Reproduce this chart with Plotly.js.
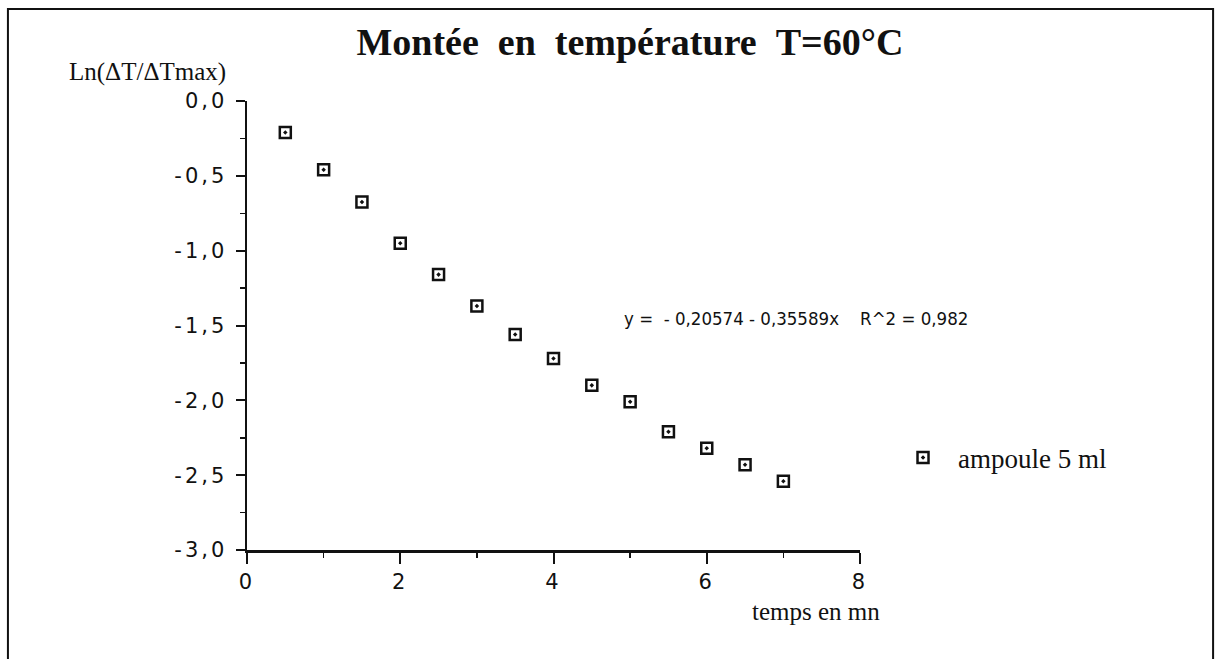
<!DOCTYPE html>
<html>
<head>
<meta charset="utf-8">
<script src="https://cdn.plot.ly/plotly-3.0.1.min.js"></script>
<style>
  body { margin: 0; background: #fff; }
  #chart { width: 1216px; height: 659px; }
  .ytick text { letter-spacing: 3px; }
  .xtick text { letter-spacing: 3px; }
</style>
</head>
<body>
<div id="chart"></div>
<script>
// ---- data ----
const timeMin = [0.5, 1, 1.5, 2, 2.5, 3, 3.5, 4, 4.5, 5, 5.5, 6, 6.5, 7];
const lnRatio = [-0.21, -0.46, -0.675, -0.95, -1.16, -1.37, -1.56, -1.72, -1.90, -2.01, -2.21, -2.32, -2.43, -2.54];
const seriesName = "ampoule 5 ml";

const yTickVals = [0, -0.5, -1, -1.5, -2, -2.5, -3];
const yTickText = ["0,0", "-0,5", "-1,0", "-1,5", "-2,0", "-2,5", "-3,0"];
const xTickVals = [0, 2, 4, 6, 8];
const xTickText = ["0", "2", "4", "6", "8"];

const titleText = "Montée\u00a0\u00a0en\u00a0\u00a0température\u00a0\u00a0T=60°C";
const yTitleText = "Ln(ΔT/ΔTmax)";
const xTitleText = "temps en mn";
const fitText = "y =\u00a0\u00a0- 0,20574 - 0,35589x\u00a0\u00a0\u00a0\u00a0R^2 = 0,982";

const ink = "#111111";
const serif = "Liberation Serif, Times New Roman, serif";
const sans = "DejaVu Sans, Verdana, sans-serif";
const sansNarrow = "DejaVu Sans Condensed, Liberation Sans, sans-serif";

const trace = {
  x: timeMin,
  y: lnRatio,
  type: "scatter",
  mode: "markers",
  name: seriesName,
  marker: { symbol: "square-open-dot", size: 11, color: ink, line: { width: 2.5, color: ink } }
};

const layout = {
  width: 1216,
  height: 659,
  paper_bgcolor: "#ffffff",
  plot_bgcolor: "#ffffff",
  margin: { l: 247, r: 356, t: 101, b: 109 },
  showlegend: true,
  title: {
    text: "<b>" + titleText + "</b>",
    font: { family: serif, size: 38, color: ink },
    x: 0.518, xanchor: "center",
    y: 0.936, yanchor: "middle"
  },
  xaxis: {
    range: [0, 8],
    showgrid: false, zeroline: false,
    showline: true, linecolor: ink, linewidth: 2.5,
    ticks: "outside", ticklen: 11, tickwidth: 2, tickcolor: ink,
    tickvals: xTickVals, ticktext: xTickText,
    minor: { dtick: 1, ticks: "outside", ticklen: 5, tickwidth: 1.5, tickcolor: ink },
    tickfont: { family: sans, size: 21, color: ink },
    fixedrange: true
  },
  yaxis: {
    range: [-3, 0],
    showgrid: false, zeroline: false,
    showline: true, linecolor: ink, linewidth: 2.5,
    ticks: "outside", ticklen: 9, tickwidth: 2, tickcolor: ink,
    tickvals: yTickVals, ticktext: yTickText,
    minor: { dtick: 0.25, ticks: "outside", ticklen: 5, tickwidth: 1.5, tickcolor: ink },
    tickfont: { family: sans, size: 21, color: ink },
    ticklabelstandoff: 4,
    fixedrange: true
  },
  legend: {
    x: 1.0457, xanchor: "left",
    y: 0.205, yanchor: "middle",
    itemwidth: 60,
    bgcolor: "rgba(0,0,0,0)",
    font: { family: serif, size: 27, color: ink }
  },
  annotations: [
    {
      text: yTitleText, xref: "paper", yref: "paper",
      x: -0.2936, xanchor: "left", y: 1.0646, yanchor: "middle",
      showarrow: false, font: { family: serif, size: 25, color: ink }
    },
    {
      text: xTitleText, xref: "paper", yref: "paper",
      x: 1.036, xanchor: "right", y: -0.138, yanchor: "middle",
      showarrow: false, font: { family: serif, size: 25, color: ink }
    },
    {
      text: fitText, xref: "paper", yref: "paper",
      x: 0.6117, xanchor: "left", y: 0.5167, yanchor: "middle",
      showarrow: false, font: { family: sansNarrow, size: 18.5, color: ink }
    }
  ],
  shapes: [
    {
      type: "rect", xref: "paper", yref: "paper",
      x0: -0.39, x1: 1.576, y0: -0.27, y1: 1.205,
      line: { color: ink, width: 2 }, fillcolor: "rgba(0,0,0,0)", layer: "below"
    }
  ]
};

Plotly.newPlot("chart", [trace], layout, { staticPlot: true, displayModeBar: false });
</script>
</body>
</html>
